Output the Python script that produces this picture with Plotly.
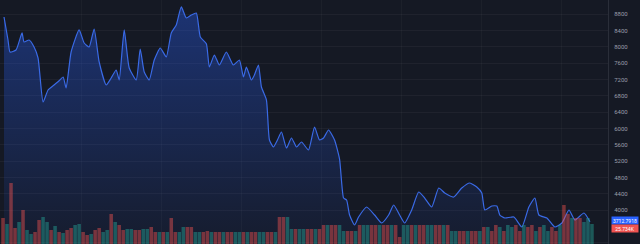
import plotly.graph_objects as go

# Price series (day index, close)
days = [3, 7, 9, 15, 21, 23, 28, 33, 37, 42, 47, 53, 58, 62, 65, 70, 78, 83, 88, 93,
        98, 105, 110, 115, 118, 123, 128, 135, 139, 143, 148, 153, 159, 165, 170, 175,
        180, 185, 190, 195, 199, 205, 208, 213, 218, 225, 232, 238, 242, 245, 250, 253,
        257, 260, 265, 268, 272, 276, 280, 285, 290, 295, 300, 307, 313, 318, 322, 327,
        333, 338, 342, 345, 348, 353, 357, 365, 373, 380, 387, 392, 398, 403, 410, 417,
        423, 430, 437, 443, 452, 460, 468, 475, 480, 483, 490, 495, 498, 503, 512, 520,
        527, 533, 537, 545, 553, 560, 567, 573, 582, 588]
price = [8736, 8172, 7877, 7926, 8344, 8123, 8172, 8000, 7730, 6650, 6945, 7068, 7170, 7264, 6994, 7877, 8418, 8098, 8000, 8442,
         7632, 7068, 7239, 7436, 7190, 8418, 7485, 7190, 7951, 7387, 7190, 7681, 7975, 7755, 8344, 8540,
         8982, 8712, 8785, 8834, 8245, 8080, 7509, 7804, 7558, 7877, 7558, 7681, 7264, 7509, 7190, 7313,
         7558, 7018, 6699, 5718, 5546, 5718, 5914, 5521, 5767, 5546, 5669, 5472, 6037, 5718, 5767, 5963,
         5718, 5250, 4294, 4245, 3877, 3632, 3828, 4074, 3877, 3681, 3877, 4123, 3877, 3681, 4000, 4442,
         4294, 4074, 4540, 4417, 4319, 4540, 4663, 4564, 4417, 4000, 4098, 4098, 3877, 3804, 3828, 3583,
         4074, 4294, 3877, 3804, 3583, 3681, 4000, 3755, 3926, 3712]

# Volume series (K), one bar every 4 px-day slot starting at day 2
vol_days = [2 + 4 * i for i in range(148)]
volume = [26, 20, 61, 16, 22, 34, 14, 10, 12, 24,
          27, 22, 14, 18, 12, 11, 14, 16, 19, 20,
          12, 9, 10, 14, 16, 12, 14, 30, 22, 19,
          14, 15, 15, 14, 14, 15, 15, 17, 12, 12,
          12, 12, 26, 12, 12, 17, 17, 17, 12, 12,
          12, 13, 12, 12, 12, 12, 12, 12, 12, 12,
          12, 12, 12, 12, 12, 12, 12, 12, 12, 27,
          27, 27, 15, 15, 15, 15, 15, 15, 15, 15,
          19, 19, 19, 19, 19, 13, 13, 13, 13, 19,
          19, 19, 19, 19, 19, 19, 19, 19, 19, 7,
          19, 19, 19, 19, 19, 19, 19, 19, 19, 19,
          19, 19, 13, 13, 13, 13, 13, 13, 13, 13,
          17, 17, 13, 19, 17, 13, 19, 17, 19, 13,
          19, 17, 19, 13, 17, 19, 13, 17, 13, 19,
          39, 30, 26, 26, 26, 22, 26, 20]
direction = ("dudduduudduudududduuddudduududdu"
             "udduuddududduudduudduddudduudud"
             "duuddudduuduudduddudduudduduudd"
             "uddudduududduudduduudduddudu"
             "dduduuddudduduuddudduddu")
direction = (direction + "u" * 148)[:148]

price_ticks = [3200, 4000, 4400, 4800, 5200, 5600, 6000, 6400, 6800, 7200, 7600, 8000, 8400, 8800]
last_price_label = "3712.7918"
last_volume_label = "25.734K"

BG = "#151924"
UP = "rgba(38,166,154,0.45)"
DN = "rgba(239,83,80,0.45)"

fig = go.Figure()
fig.add_trace(go.Bar(
    x=vol_days, y=volume, yaxis="y2",
    marker=dict(color=[UP if d == "u" else DN for d in direction], line=dict(width=0)),
    showlegend=False, hoverinfo="skip",
))
fig.add_trace(go.Scatter(
    x=days, y=price, mode="lines",
    line=dict(color="#3a6ae6", width=1.2, shape="spline", smoothing=0.5),
    fill="tozeroy",
    fillgradient=dict(type="vertical", start=3100, stop=9000,
                      colorscale=[[0, "rgba(41,98,255,0.04)"], [1, "rgba(41,98,255,0.36)"]]),
    showlegend=False,
))

fig.update_layout(
    width=640, height=244,
    margin=dict(l=0, r=32, t=0, b=0),
    paper_bgcolor=BG, plot_bgcolor=BG,
    bargap=0.12,
    xaxis=dict(range=[-1, 606], showgrid=True, gridcolor="rgba(255,255,255,0.03)", dtick=80,
               zeroline=False, showticklabels=False, fixedrange=True),
    yaxis=dict(range=[3166, 9153], side="right", tickvals=price_ticks,
               ticktext=[str(v) for v in price_ticks],
               tickfont=dict(family="Roboto", size=6, color="#9a9ea8"),
               showgrid=True, gridcolor="rgba(255,255,255,0.045)", zeroline=False,
               showline=True, linecolor="#2a2e39", ticks="", ticklabelstandoff=4),
    yaxis2=dict(range=[0, 244], overlaying="y", visible=False),
    annotations=[
        dict(xref="paper", yref="paper", x=1, y=1 - 220.5 / 244, xanchor="left", yanchor="middle",
             xshift=3, text=last_price_label, showarrow=False,
             font=dict(family="Roboto", size=5, color="white"),
             bgcolor="#2962ff", borderpad=0, height=7, width=26),
        dict(xref="paper", yref="paper", x=1, y=1 - 228 / 244, xanchor="left", yanchor="middle",
             xshift=3, text=last_volume_label, showarrow=False,
             font=dict(family="Roboto", size=5, color="white"),
             bgcolor="#ef5350", borderpad=0, height=7, width=26),
    ],
)

fig.write_html("out.html")
